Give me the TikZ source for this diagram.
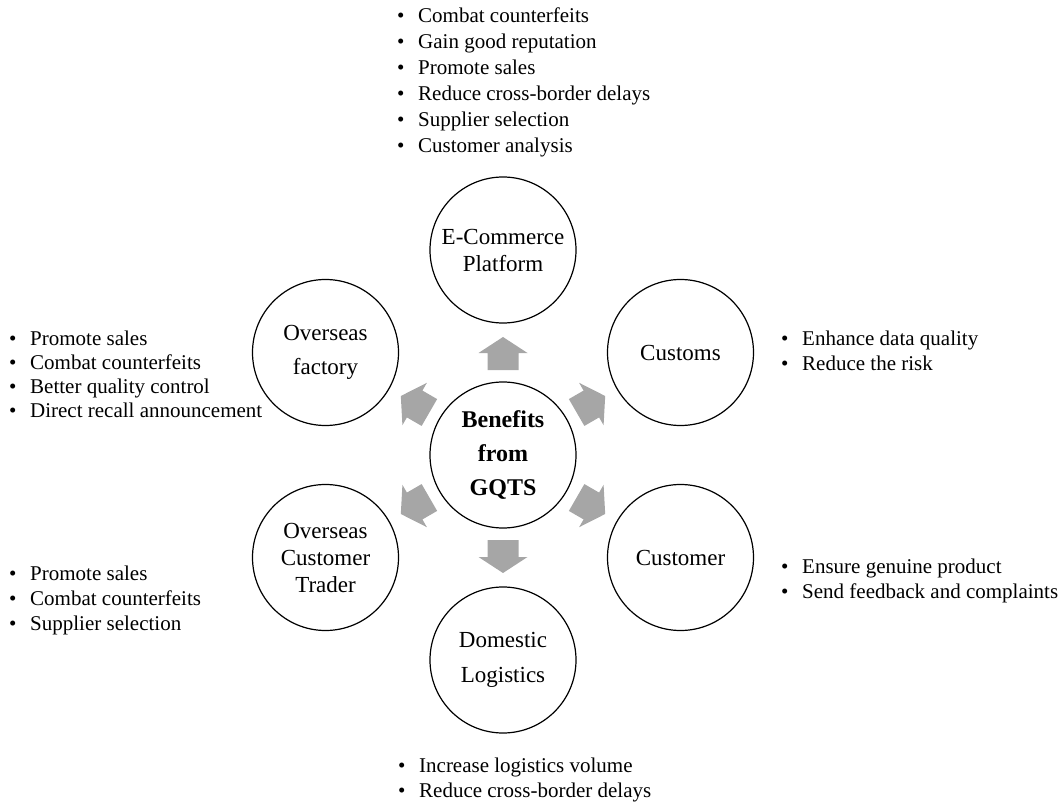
\documentclass[tikz,border=0pt]{standalone}
\usepackage{fontspec}
\setmainfont{Liberation Serif}
\definecolor{arrowgray}{RGB}{166,166,166}
\newcommand\blt[1]{\makebox[21pt][l]{\textbullet}#1}
\begin{document}
\begin{tikzpicture}[x=1pt,y=1pt,
  circ/.style={circle, draw, line width=1.2pt, minimum size=146pt, inner sep=0pt, align=center, font=\fontsize{23}{27}\selectfont},
  twoline/.style={font=\fontsize{23}{34.5}\selectfont},
  lst/.style={anchor=base west, inner sep=0pt},
  blockarrow/.pic={\fill[arrowgray] (85,-15.5) -- (102,-15.5) -- (102,-24.5) -- (118,0) -- (102,24.5) -- (102,15.5) -- (85,15.5) -- cycle;}]
\useasboundingbox (0,0) rectangle (1063,-802);

% circles
\node[circ, font=\fontsize{24}{34}\selectfont\bfseries] (hub) at (503,-455) {Benefits\\from\\GQTS};
\node[circ] (ecom) at (503,-250) {E-Commerce\\Platform};
\node[circ] (customs) at (680.5,-352.5) {Customs};
\node[circ] (customer) at (680.5,-557.5) {Customer};
\node[circ, twoline] (logistics) at (503,-660) {Domestic\\Logistics};
\node[circ] (trader) at (325.5,-557.5) {Overseas\\Customer\\Trader};
\node[circ, twoline] (factory) at (325.5,-352.5) {Overseas\\factory};

% block arrows
\path (hub) pic[rotate=90] {blockarrow};
\path (hub) pic[rotate=30] {blockarrow};
\path (hub) pic[rotate=-30] {blockarrow};
\path (hub) pic[rotate=-90] {blockarrow};
\path (hub) pic[rotate=210] {blockarrow};
\path (hub) pic[rotate=150] {blockarrow};

% lists
\node[lst, font=\fontsize{21}{26}\selectfont] (ecomlist) at (397,-22.5) {\begin{tabular}[t]{@{}l@{}}
\blt{Combat counterfeits}\\
\blt{Gain good reputation}\\
\blt{Promote sales}\\
\blt{Reduce cross-border delays}\\
\blt{Supplier selection}\\
\blt{Customer analysis}
\end{tabular}};

\node[lst, font=\fontsize{21}{24}\selectfont] (factorylist) at (9,-345) {\begin{tabular}[t]{@{}l@{}}
\blt{Promote sales}\\
\blt{Combat counterfeits}\\
\blt{Better quality control}\\
\blt{Direct recall announcement}
\end{tabular}};

\node[lst, font=\fontsize{21}{25}\selectfont] (customslist) at (781,-345) {\begin{tabular}[t]{@{}l@{}}
\blt{Enhance data quality}\\
\blt{Reduce the risk}
\end{tabular}};

\node[lst, font=\fontsize{21}{25}\selectfont] (customerlist) at (781,-573) {\begin{tabular}[t]{@{}l@{}}
\blt{Ensure genuine product}\\
\blt{Send feedback and complaints}
\end{tabular}};

\node[lst, font=\fontsize{21}{25}\selectfont] (traderlist) at (9,-580) {\begin{tabular}[t]{@{}l@{}}
\blt{Promote sales}\\
\blt{Combat counterfeits}\\
\blt{Supplier selection}
\end{tabular}};

\node[lst, font=\fontsize{21}{25}\selectfont] (logisticslist) at (398,-772) {\begin{tabular}[t]{@{}l@{}}
\blt{Increase logistics volume}\\
\blt{Reduce cross-border delays}
\end{tabular}};
\end{tikzpicture}
\end{document}
